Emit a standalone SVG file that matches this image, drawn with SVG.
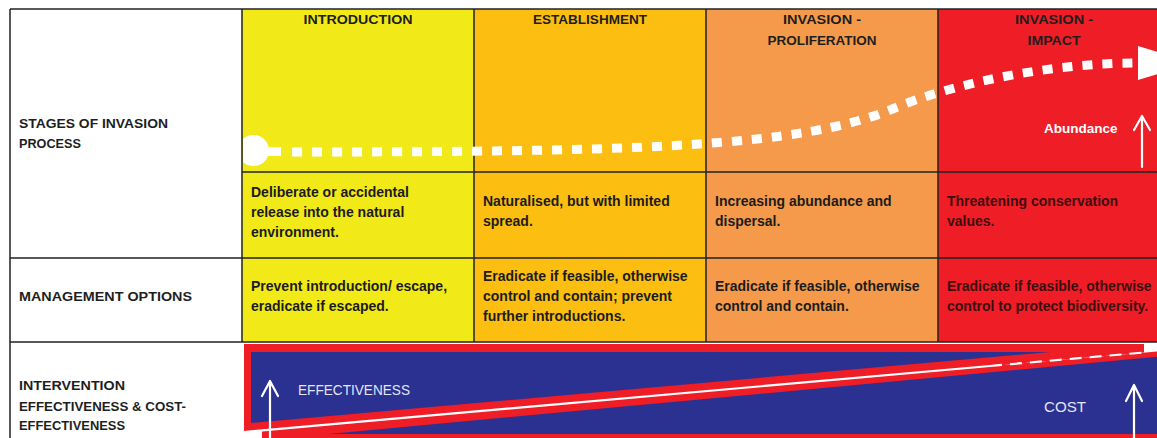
<svg xmlns="http://www.w3.org/2000/svg" width="1157" height="438" viewBox="0 0 1157 438">
  <defs>
    <style>
      .hdr{font-family:"Liberation Sans",Arial,sans-serif;font-weight:bold;font-size:13px;fill:#1e1e1e;text-anchor:middle}
      .lbl{font-family:"Liberation Sans",Arial,sans-serif;font-weight:bold;font-size:13.5px;fill:#1e1e1e}
      .txt{font-family:"Liberation Sans",Arial,sans-serif;font-weight:bold;font-size:14px;fill:#1c1c1c}
      .txr{font-family:"Liberation Sans",Arial,sans-serif;font-weight:bold;font-size:14px;fill:#3e0d10}
      .grid{stroke:#222;stroke-width:1.5;fill:none}
      .wline{stroke:#fff;fill:none;stroke-width:2.2;stroke-linecap:round;stroke-linejoin:round}
      .light{font-family:"Liberation Sans",Arial,sans-serif;font-size:15px;fill:#e4e4f4}
    </style>
    <clipPath id="blobclip"><rect x="243" y="120" width="60" height="50"/></clipPath>
  </defs>
  <rect width="1157" height="438" fill="#fff"/>

  <!-- column fills -->
  <g id="col-introduction">
    <rect x="242" y="9" width="232" height="333" fill="#F2E918"/>
    <text class="hdr" x="358" y="24" textLength="109" lengthAdjust="spacingAndGlyphs">INTRODUCTION</text>
  </g>
  <g id="col-establishment">
    <rect x="474" y="9" width="232" height="333" fill="#FDBE12"/>
    <text class="hdr" x="590" y="24" textLength="114" lengthAdjust="spacingAndGlyphs">ESTABLISHMENT</text>
  </g>
  <g id="col-proliferation">
    <rect x="706" y="9" width="232" height="333" fill="#F59A4A"/>
    <text class="hdr" x="822" y="24" textLength="78" lengthAdjust="spacingAndGlyphs">INVASION -</text>
    <text class="hdr" x="822" y="45" textLength="109" lengthAdjust="spacingAndGlyphs">PROLIFERATION</text>
  </g>
  <g id="col-impact">
    <rect x="938" y="9" width="219" height="333" fill="#EE1D26"/>
    <text class="hdr" x="1054" y="24" textLength="78" lengthAdjust="spacingAndGlyphs">INVASION -</text>
    <text class="hdr" x="1054" y="45" textLength="53" lengthAdjust="spacingAndGlyphs">IMPACT</text>
  </g>

  <!-- row labels -->
  <g id="label-stages">
    <text class="lbl" x="19" y="128" textLength="149" lengthAdjust="spacingAndGlyphs">STAGES OF INVASION</text>
    <text class="lbl" x="19" y="148" textLength="62" lengthAdjust="spacingAndGlyphs">PROCESS</text>
  </g>
  <g id="label-management">
    <text class="lbl" x="19" y="301" textLength="173" lengthAdjust="spacingAndGlyphs">MANAGEMENT OPTIONS</text>
  </g>
  <g id="label-intervention">
    <text class="lbl" x="19" y="390" textLength="106" lengthAdjust="spacingAndGlyphs">INTERVENTION</text>
    <text class="lbl" x="19" y="411" textLength="167" lengthAdjust="spacingAndGlyphs">EFFECTIVENESS &amp; COST-</text>
    <text class="lbl" x="19" y="430" textLength="106" lengthAdjust="spacingAndGlyphs">EFFECTIVENESS</text>
  </g>

  <!-- description cells -->
  <g id="desc-introduction">
    <text class="txt" x="251" y="197">Deliberate or accidental</text>
    <text class="txt" x="251" y="217">release into the natural</text>
    <text class="txt" x="251" y="237">environment.</text>
  </g>
  <g id="desc-establishment">
    <text class="txt" x="483" y="206">Naturalised, but with limited</text>
    <text class="txt" x="483" y="226">spread.</text>
  </g>
  <g id="desc-proliferation">
    <text class="txt" x="715" y="206">Increasing abundance and</text>
    <text class="txt" x="715" y="226">dispersal.</text>
  </g>
  <g id="desc-impact">
    <text class="txr" x="947" y="206">Threatening conservation</text>
    <text class="txr" x="947" y="226">values.</text>
  </g>

  <!-- management cells -->
  <g id="mgmt-introduction">
    <text class="txt" x="251" y="291">Prevent introduction/ escape,</text>
    <text class="txt" x="251" y="311">eradicate if escaped.</text>
  </g>
  <g id="mgmt-establishment">
    <text class="txt" x="483" y="281">Eradicate if feasible, otherwise</text>
    <text class="txt" x="483" y="301">control and contain; prevent</text>
    <text class="txt" x="483" y="321">further introductions.</text>
  </g>
  <g id="mgmt-proliferation">
    <text class="txt" x="715" y="291">Eradicate if feasible, otherwise</text>
    <text class="txt" x="715" y="311">control and contain.</text>
  </g>
  <g id="mgmt-impact">
    <text class="txr" x="947" y="291">Eradicate if feasible, otherwise</text>
    <text class="txr" x="947" y="311">control to protect biodiversity.</text>
  </g>

  <!-- grid -->
  <g id="grid" class="grid">
    <path d="M10 9H1157 M10 9V438 M242 9V342 M474 9V342 M706 9V342 M938 9V342 M242 172H1157 M10 258H1157 M10 342H1157"/>
  </g>

  <!-- effectiveness / cost wedge -->
  <g id="effectiveness-cost">
    <polygon points="244,344 1144,344 1144,352.5 244,432" fill="#EE1D26"/>
    <polygon points="262,430.4 1157,351.4 1157,438 262,438" fill="#EE1D26"/>
    <polygon points="251,352 1050,352 251,423" fill="#2B3190"/>
    <polygon points="329,434 1157,356.8 1157,434" fill="#2B3190"/>
    <path d="M244 432 L990 366" stroke="#fff" stroke-width="2.2" fill="none"/>
    <path d="M990 366 L1144 352.5" stroke="#fff" stroke-width="2.2" fill="none" stroke-dasharray="12 8"/>
    <text class="light" x="298" y="395" textLength="112" lengthAdjust="spacingAndGlyphs">EFFECTIVENESS</text>
    <text class="light" x="1044" y="412" textLength="42" lengthAdjust="spacingAndGlyphs">COST</text>
  </g>

  <!-- connectors -->
  <g id="connectors">
    <g clip-path="url(#blobclip)">
      <circle cx="253.5" cy="150.5" r="15.5" fill="#fff"/>
    </g>
    <rect x="264" y="147" width="17" height="9" fill="#fff"/>
    <path d="M292 152 C650 152 800 146 890 110 C960 80 1060 63 1138 63" stroke="#fff" stroke-width="9" fill="none" stroke-dasharray="10 10"/>
    <polygon points="1138,46 1138,80 1195,63" fill="#fff"/>
    <path class="wline" d="M1142 167V116 M1134 130L1142 116L1150 130"/>
    <path class="wline" d="M270 438V381 M262 396L270 381L278 396"/>
    <path class="wline" d="M1134 438V385 M1126 401L1134 385L1142 401"/>
  </g>
  <g id="abundance-label">
    <text x="1044" y="133" font-family="Liberation Sans, Arial, sans-serif" font-weight="bold" font-size="13.5" fill="#fff">Abundance</text>
  </g>
</svg>
